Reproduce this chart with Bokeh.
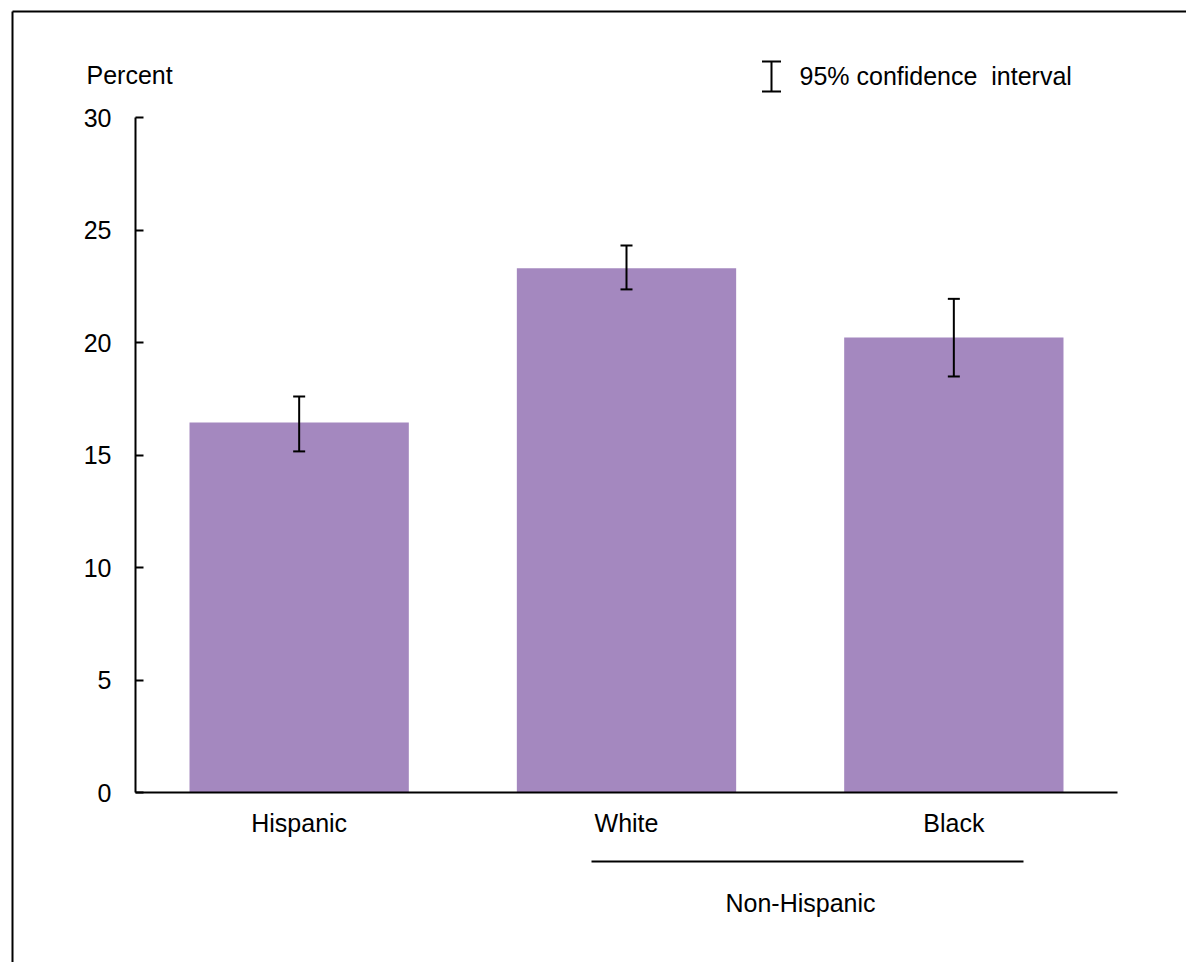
from bokeh.plotting import figure
from bokeh.models import (ColumnDataSource, Whisker, TeeHead, Label, Range1d,
                          LinearAxis, SingleIntervalTicker, FixedTicker)
from bokeh.embed import file_html
from bokeh.resources import INLINE

# ---- data ----
categories = ["Hispanic", "White", "Black"]
percent = [16.44, 23.3, 20.22]
ci_lower = [15.16, 22.36, 18.49]
ci_upper = [17.6, 24.31, 21.94]
group_label = "Non-Hispanic"
y_axis_title = "Percent"
legend_text = "95% confidence\u00a0 interval"

y_tick_interval = 5
y_max = 30

FONT = "Liberation Sans"
BAR_COLOR = "#A488BF"

# ---- layout (canvas pixels) ----
W, H = 1186, 962
AX_L, AX_R, AX_T, AX_B = 135, 1117, 117, 792
cat_px = (AX_R - AX_L) / len(categories)
unit_px = (AX_B - AX_T) / y_max


def dx(px):
    return (px - AX_L) / cat_px


def dy(py):
    return (AX_B - py) / unit_px


xpos = [i + 0.5 for i in range(len(categories))]
src = ColumnDataSource(dict(x=xpos, val=percent, lo=ci_lower, hi=ci_upper))

p = figure(width=W, height=H, x_range=Range1d(dx(0), dx(W)),
           y_range=Range1d(dy(H), dy(0)),
           x_axis_location=None, y_axis_location=None,
           output_backend="svg", toolbar_location=None, title=None,
           min_border=0, min_border_left=0, min_border_right=0,
           min_border_top=0, min_border_bottom=0)
p.outline_line_color = None
p.grid.grid_line_color = None
p.background_fill_color = "white"
p.border_fill_color = "white"

p.vbar(x="x", top="val", width=0.67, source=src, fill_color=BAR_COLOR,
       line_color=None)

p.add_layout(Whisker(base="x", lower="lo", upper="hi", source=src,
                     line_color="black", line_width=2, level="annotation",
                     lower_head=TeeHead(size=12, line_color="black", line_width=2),
                     upper_head=TeeHead(size=12, line_color="black", line_width=2)))

# y axis
ya = LinearAxis(fixed_location=0, bounds=(0, y_max),
                ticker=SingleIntervalTicker(interval=y_tick_interval))
ya.axis_line_width = 2
ya.axis_line_color = "black"
ya.major_tick_in = 8
ya.major_tick_out = 0
ya.major_tick_line_width = 2
ya.major_tick_line_color = "black"
ya.minor_tick_line_color = None
ya.major_label_standoff = 20
ya.major_label_text_font = FONT
ya.major_label_text_font_size = "25px"
ya.major_label_text_color = "black"
p.add_layout(ya, "left")

# x axis
xa = LinearAxis(fixed_location=0, bounds=(0, len(categories)),
                ticker=FixedTicker(ticks=xpos),
                major_label_overrides={x: c for x, c in zip(xpos, categories)})
xa.axis_line_width = 2
xa.axis_line_color = "black"
xa.major_tick_in = 0
xa.major_tick_out = 0
xa.major_tick_line_color = None
xa.minor_tick_line_color = None
xa.major_label_standoff = 16
xa.major_label_text_font = FONT
xa.major_label_text_font_size = "25px"
xa.major_label_text_color = "black"
p.add_layout(xa, "below")

# "Percent" label
p.add_layout(Label(x=dx(86), y=dy(74), text=y_axis_title, text_font=FONT,
                   text_font_size="25px", text_baseline="middle",
                   text_align="left", text_color="black"))

# legend: CI symbol + text
leg_src = ColumnDataSource(dict(x=[dx(771)], lo=[dy(91)], hi=[dy(61)]))
p.add_layout(Whisker(base="x", lower="lo", upper="hi", source=leg_src,
                     line_color="black", line_width=2, level="annotation",
                     lower_head=TeeHead(size=19, line_color="black", line_width=2),
                     upper_head=TeeHead(size=19, line_color="black", line_width=2)))
p.add_layout(Label(x=dx(799), y=dy(75), text=legend_text,
                   text_font=FONT, text_font_size="25px",
                   text_baseline="middle", text_align="left", text_color="black"))

# Non-Hispanic grouping line and label
p.segment(x0=[dx(591)], y0=[dy(861)], x1=[dx(1023)], y1=[dy(861)],
          line_color="black", line_width=2)
p.add_layout(Label(x=dx(800), y=dy(902), text=group_label, text_font=FONT,
                   text_font_size="25px", text_baseline="middle",
                   text_align="center", text_color="black"))

# outer border (top and left edges visible in the frame)
p.segment(x0=[dx(12), dx(12)], y0=[dy(11), dy(11)],
          x1=[dx(12), dx(W + 10)], y1=[dy(H + 10), dy(11)],
          line_color="black", line_width=2)

open("out.html", "w").write(file_html(p, INLINE))
